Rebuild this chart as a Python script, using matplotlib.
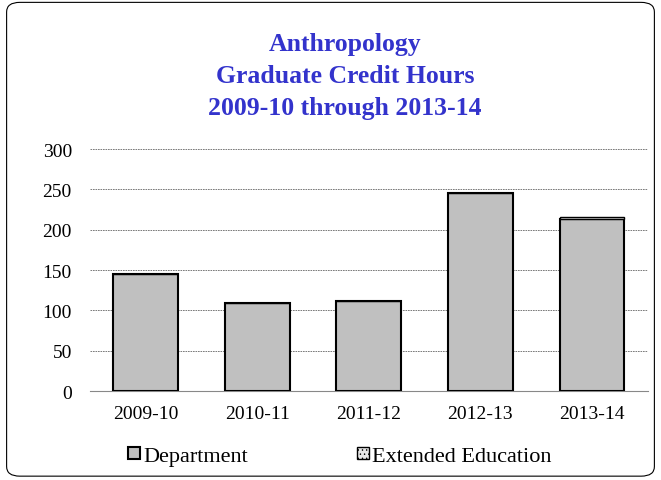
import matplotlib.pyplot as plt
from matplotlib.patches import FancyBboxPatch
import numpy as np

years = ['2009-10', '2010-11', '2011-12', '2012-13', '2013-14']
department = [145, 109, 111, 246, 213]
extended = [0, 0, 0, 0, 3]

plt.rcParams['font.family'] = ['Liberation Serif', 'DejaVu Serif']
plt.rcParams['hatch.linewidth'] = 0.5

fig = plt.figure(figsize=(6.61, 4.81), dpi=100)
ax = fig.add_axes([0.136, 0.185, 0.844, 0.503])

x = np.arange(len(years))
ax.bar(x, department, width=0.58, color='#c0c0c0', edgecolor='black', linewidth=1.5,
       label='Department', zorder=3)
ax.bar(x, extended, bottom=department, width=0.58, color='#e8e8e8', edgecolor='black',
       linewidth=1.0, hatch='....', label='Extended Education', zorder=3)

ax.set_xlim(-0.5, 4.5)
ax.set_ylim(0, 300)
ax.set_yticks(range(0, 301, 50))
ax.set_xticks(x)
ax.set_xticklabels(years)
ax.tick_params(axis='both', length=0, labelsize=14, colors='black')
ax.tick_params(axis='y', pad=13)
ax.tick_params(axis='x', pad=10)
ax.yaxis.grid(True, color='#666666', linestyle=(0, (2, 1)), linewidth=0.6, zorder=0)
for s in ['top', 'right', 'left']:
    ax.spines[s].set_visible(False)
ax.spines['bottom'].set_color('#888888')

title_color = '#3333cc'
fig.text(0.522, 0.907, 'Anthropology', ha='center', va='center', fontsize=18.5,
         fontweight='bold', color=title_color)
fig.text(0.522, 0.840, 'Graduate Credit Hours', ha='center', va='center', fontsize=18.5,
         fontweight='bold', color=title_color)
fig.text(0.522, 0.774, '2009-10 through 2013-14', ha='center', va='center', fontsize=18.5,
         fontweight='bold', color=title_color)

fig.legend(loc='center', bbox_to_anchor=(0.514, 0.049), ncol=2, frameon=False,
           fontsize=16, handlelength=0.55, handleheight=0.5, handletextpad=0.15,
           columnspacing=4.9)

border = FancyBboxPatch((0.01, 0.008), 0.98, 0.985, boxstyle='round,pad=0,rounding_size=0.02',
                        transform=fig.transFigure, fill=False, edgecolor='black', linewidth=0.8)
fig.patches.append(border)

fig.savefig('out.png', dpi=100)
